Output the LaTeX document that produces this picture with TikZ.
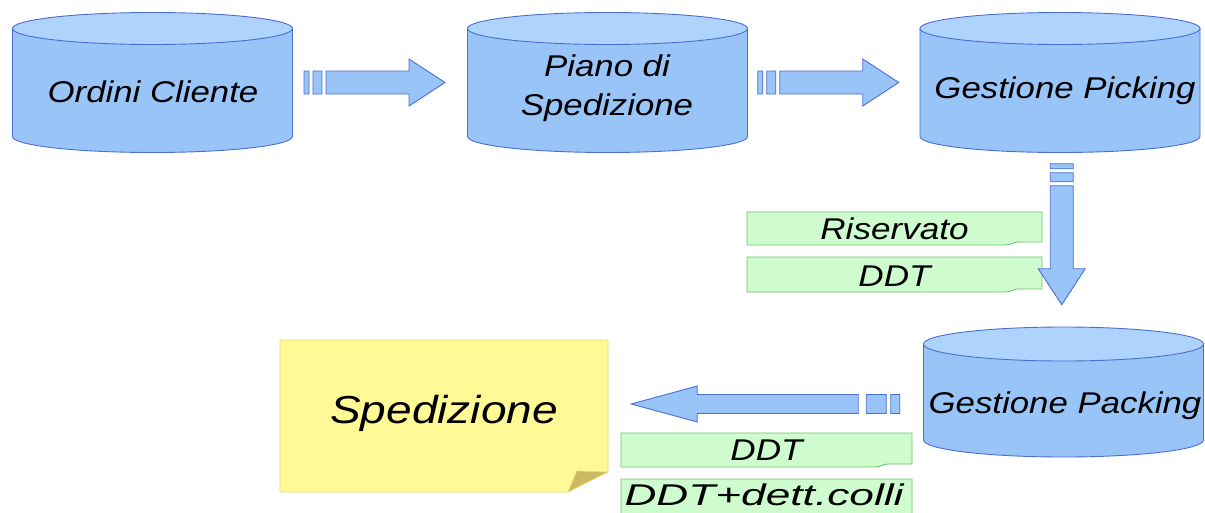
\documentclass[tikz,border=0pt]{standalone}
\usepackage{fontspec}
\setmainfont{Liberation Sans}
\usetikzlibrary{calc}

\definecolor{cylfill}{RGB}{153,196,248}
\definecolor{cyltop}{RGB}{174,211,252}
\definecolor{cylline}{RGB}{74,110,212}
\definecolor{tagfill}{RGB}{206,252,206}
\definecolor{tagline}{RGB}{104,196,104}
\definecolor{notefill}{RGB}{255,250,150}
\definecolor{noteline}{RGB}{234,214,122}
\definecolor{notefold}{RGB}{204,186,96}

\tikzset{
  cyl/.style={fill=cylfill, draw=cylline, line width=0.9pt},
  cylcap/.style={fill=cyltop, draw=cylline, line width=0.9pt},
  blk/.style={fill=cylfill, draw=cylline, line width=0.9pt, line join=miter},
  frame/.style={inner sep=0pt, outer sep=0pt},
  tag/.style={fill=tagfill, draw=tagline, line width=0.8pt},
  note/.style={fill=notefill, draw=noteline, line width=0.8pt},
  cyltxt/.style={font=\itshape\fontsize{30}{39}\selectfont, xscale=1.16, inner sep=0pt, anchor=base},
  tagtxt/.style={font=\itshape\fontsize{30}{34}\selectfont, xscale=1.17, inner sep=0pt, anchor=base},
  bigtxt/.style={font=\itshape\fontsize{39}{44}\selectfont, xscale=1.18, inner sep=0pt, anchor=base}
}

% name, cx, cy, half height, ry
\newcommand{\dbcyl}[5]{%
  \filldraw[cyl] (#2-140,#3-#4+#5) -- (#2-140,#3+#4-#5)
    arc[start angle=180, end angle=0, x radius=140, y radius=#5]
    -- (#2+140,#3-#4+#5) -- cycle;
  \filldraw[cylcap] (#2,#3-#4+#5) ellipse [x radius=140, y radius=#5];
  \node[frame, minimum width=280, minimum height=2*#4] (#1) at (#2,#3) {};
}

% x1, y1, x2, y2
\newcommand{\tagbox}[4]{%
  \filldraw[tag] (#1,#2) -- (#3,#2) -- (#3,#4-3) -- (#3-24,#4-3)
    .. controls (#3-29,#4-3) and (#3-31,#4) .. (#3-37,#4) -- (#1,#4) -- cycle;
}

% centre, angle
\newcommand{\flowarrow}[2]{%
  \draw[blk, rotate=#2] (#1) ++(-76,-11.5) rectangle ++(5,23)
    (#1) ++(-67,-11.5) rectangle ++(9,23)
    (#1) ++(-54,-11.5) -- ++(83,0) -- ++(0,-12) -- ++(36,23.5)
    -- ++(-36,23.5) -- ++(0,-12) -- ++(-83,0) -- cycle;
}

\begin{document}
\begin{tikzpicture}[x=1pt,y=1pt,yscale=-1]
\useasboundingbox (0,0) rectangle (1205,512);

\dbcyl{ord}{152.5}{82.5}{70}{16}
\dbcyl{pia}{607.5}{82.5}{70}{16}
\dbcyl{pic}{1060}{82.5}{70}{16}
\dbcyl{pkg}{1063.5}{392}{65}{17}

\node[cyltxt] (ord-t) at (153,102) {Ordini Cliente};
\node[cyltxt, align=center, anchor=center] (pia-t) at (607,88) {Piano di\\Spedizione};
\node[cyltxt] (pic-t) at (1065,98) {Gestione Picking};
\node[cyltxt] (pkg-t) at (1065,413) {Gestione Packing};

% shipping note
\filldraw[note] (280,340) -- (608,340) -- (608,472) -- (568,492) -- (280,492) -- cycle;
\filldraw[fill=notefold, draw=noteline, line width=0.6pt] (568,492) -- (577,471) -- (607,472) -- cycle;
\node[frame, minimum width=328, minimum height=152] (spd) at (444,416) {};
\node[bigtxt] (spd-t) at (444,423) {Spedizione};

% documents
\tagbox{747}{212}{1042}{245}
\tagbox{747}{257}{1042}{292}
\tagbox{621}{433}{912}{467}
\tagbox{621}{479}{912}{518}
\node[tagtxt] (res) at (894.5,239) {Riservato};
\node[tagtxt] (ddt1) at (894.5,286) {DDT};
\node[tagtxt] (ddt2) at (766.5,460) {DDT};
\node[tagtxt, xscale=1.26] (ddt3) at (764,505) {DDT+dett.colli};

% flow
\coordinate (m1) at ($(ord.east)!0.5!(pia.west)$);
\coordinate (m2) at ($(pia.east)!0.5!(pic.west)$);
\coordinate (m3) at ($(pic.south)!0.5!(pkg.north)$);
\coordinate (m4) at ($(pkg.west)!0.5!(spd.east)$);
\flowarrow{m1}{0}
\flowarrow{m2}{0}
\flowarrow{m3}{90}
\draw[blk] (m4) ++(134,-9.5) rectangle ++(-9,19)
  (m4) ++(120.5,-9.5) rectangle ++(-20,19)
  (m4) ++(92.5,-9.5) -- ++(-161,0) -- ++(0,-8.5) -- ++(-66,18)
  -- ++(66,18) -- ++(0,-8.5) -- ++(161,0) -- cycle;
\end{tikzpicture}
\end{document}
